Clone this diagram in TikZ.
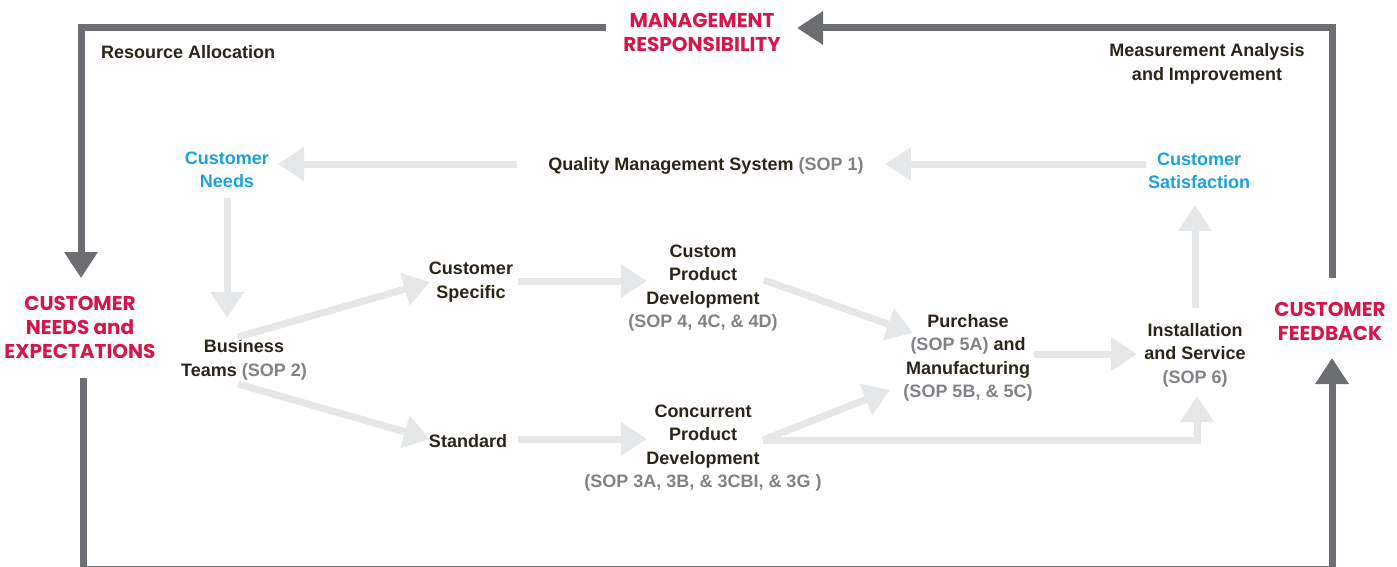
\documentclass[tikz,border=0pt]{standalone}
\usepackage{fontspec}
\setmainfont{Liberation Sans}
\newfontfamily\redfont{Poppins}
\usetikzlibrary{arrows.meta,calc}
\definecolor{darktxt}{HTML}{2B2418}
\definecolor{soptxt}{HTML}{808285}
\definecolor{redtxt}{HTML}{D4174A}
\definecolor{bluetxt}{HTML}{1BA1DB}
\definecolor{framegray}{HTML}{6D6E71}
\definecolor{flowgray}{HTML}{E6E7E8}
\newcommand\soptx[1]{{\color{soptxt}#1}}
\begin{document}
\begin{tikzpicture}[x=1pt,y=-1pt,
  lbl/.style={align=center, text=darktxt, font=\fontsize{18}{23.5}\selectfont\bfseries, inner sep=0pt},
  bluelbl/.style={lbl, text=bluetxt},
  redlbl/.style={align=center, text=redtxt, font=\redfont\fontsize{20}{24}\selectfont\bfseries, inner sep=0pt},
  ftip/.style={-{Triangle[width=32pt,length=26pt]}},
  flow/.style={draw=flowgray, line width=7pt, ftip, line join=miter},
  frame/.style={draw=framegray, line width=7pt, line join=miter}
]
\useasboundingbox (0,0) rectangle (1397,567);

% nodes
\node[lbl, anchor=west] (res) at (101,52) {Resource Allocation};
\node[redlbl] (mgmt) at (702,32) {MANAGEMENT\\RESPONSIBILITY};
\node[lbl] (meas) at (1207,64) {Measurement Analysis\\and Improvement};
\node[bluelbl] (cneeds) at (227,170) {Customer\\Needs};
\node[lbl] (qms) at (706,166) {Quality Management System \soptx{(SOP 1)}};
\node[bluelbl] (csat) at (1199,171) {Customer\\Satisfaction};
\node[redlbl] (cne) at (80,327) {CUSTOMER\\NEEDS and\\EXPECTATIONS};
\node[lbl] (bt) at (244,360) {Business\\Teams \soptx{(SOP 2)}};
\node[lbl] (cs) at (471,282) {Customer\\Specific};
\node[lbl] (cpd) at (703,288) {Custom\\Product\\Development\\\soptx{(SOP 4, 4C, \& 4D)}};
\node[lbl] (pm) at (968,358) {Purchase\\\soptx{(SOP 5A)} and\\Manufacturing\\\soptx{(SOP 5B, \& 5C)}};
\node[lbl] (is) at (1195,355) {Installation\\and Service\\\soptx{(SOP 6)}};
\node[redlbl] (cf) at (1330,321) {CUSTOMER\\FEEDBACK};
\node[lbl] (std) at (468,441) {Standard};
\node[lbl] (conc) at (703,448) {Concurrent\\Product\\Development\\\soptx{(SOP 3A, 3B, \& 3CBI, \& 3G )}};

% frame
\coordinate (bl) at (83.5,569);
\coordinate (br) at (1332,569);
\draw[frame, ftip] ($(mgmt.center)+(-96,-4)$) -| ($(cne.center)+(1,-49)$);
\draw[frame, ftip] ($(cne.center)+(3.5,51)$) -- (bl) -- (br) -- ($(cf.center)+(2,37)$);
\draw[frame, ftip] ($(cf.center)+(2,-43)$) |- ($(mgmt.center)+(95,-4)$);

% flow arrows
\draw[flow] ($(qms.center)+(-189,-2)$) -- ($(cneeds.center)+(51,-6)$);
\draw[flow] ($(csat.center)+(-53,-7)$) -- ($(qms.center)+(179,-2)$);
\draw[flow] ($(cneeds.center)+(0,28)$) -- ($(bt.center)+(-17,-42)$);
\draw[flow] ($(bt.center)+(-6,-23)$) -- ($(cs.center)+(-41,0)$);
\draw[flow] ($(bt.center)+(-6,24)$) -- ($(std.center)+(-38,-2)$);
\draw[flow] ($(cs.center)+(47,-1)$) -- ($(cpd.center)+(-56,-7)$);
\draw[flow] ($(cpd.center)+(61,-8)$) -- ($(pm.center)+(-55,-25)$);
\draw[flow] ($(std.center)+(50,-2)$) -- ($(conc.center)+(-56,-9)$);
\draw[flow] ($(conc.center)+(60,-8)$) -- ($(pm.center)+(-78,32)$);
\draw[flow] ($(conc.center)+(60,-8)$) -| ($(is.center)+(2,41)$);
\draw[flow] ($(pm.center)+(66,-4)$) -- ($(is.center)+(-58,-1)$);
\draw[flow] ($(is.center)+(0,-47)$) -- ($(csat.center)+(-4,34)$);
\end{tikzpicture}
\end{document}
